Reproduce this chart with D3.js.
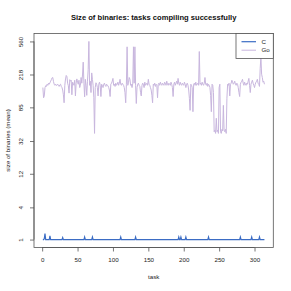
<!DOCTYPE html>
<html>
<head>
	<title>Size of binaries</title>
	<script type="text/javascript" src="https://cdn.jsdelivr.net/npm/d3@7/dist/d3.min.js"></script>
	<style type="text/css">
		body{ margin: 0; background: #fff; }
		text{ font-family: "Liberation Sans", Arial, sans-serif; }
	</style>
</head>
<body>

	<svg width="291" height="291" class="chart"></svg>

	<script type="text/javascript">

		// mean binary size per task, one value per task (1..314)
		var sizeC = [
			1,1,1.05,1.38,1,1,1,1,1,1,
			1.22,1,1,1,1,1,1,1,1,1,
			1,1,1,1,1,1,1,1,1.12,1,
			1,1,1,1,1,1,1,1,1,1,
			1,1,1,1,1,1,1,1,1,1,
			1,1,1,1,1,1,1,1,1,1.15,
			1,1,1,1,1,1,1,1,1,1,
			1.15,1,1,1,1,1,1,1,1,1,
			1,1,1,1,1,1,1,1,1,1,
			1,1,1,1,1,1,1,1,1,1,
			1,1,1,1,1,1,1,1,1,1,
			1.15,1,1,1,1,1,1,1,1,1,
			1,1,1,1,1,1,1,1,1,1,
			1,1.15,1,1,1,1,1,1,1,1,
			1,1,1,1,1,1,1,1,1,1,
			1,1,1,1,1,1,1,1,1,1,
			1,1,1,1,1,1,1,1,1,1,
			1,1,1,1,1,1,1,1,1,1,
			1,1,1,1,1,1,1,1,1,1,
			1,1,1.15,1,1,1.15,1,1,1,1,
			1,1,1.15,1,1,1,1,1,1,1,
			1,1,1,1,1,1,1,1,1,1,
			1,1,1,1,1,1,1,1,1,1,
			1,1,1,1,1.15,1,1,1,1,1,
			1,1,1,1,1,1,1,1,1,1,
			1,1,1,1,1,1,1,1,1,1,
			1,1,1,1,1,1,1,1,1,1,
			1,1,1,1,1,1,1,1,1,1.15,
			1,1,1,1,1,1,1,1,1,1,
			1,1,1,1,1,1.15,1,1,1,1,
			1,1,1,1,1,1,1.15,1,1,1,
			1,1,1,1
		]

		var sizeGo = [
			150,112,118,150,158,155,165,160,170,165,
			172,180,188,198,200,178,165,160,165,160,
			160,165,160,155,162,165,155,150,140,122,
			97,160,192,212,205,170,158,128,188,180,
			185,122,175,168,160,185,118,170,192,175,
			165,185,150,160,200,170,215,310,170,115,
			190,160,120,180,250,560,160,180,130,228,
			190,160,112,40,150,172,165,150,118,165,
			175,160,116,165,160,150,165,170,160,155,
			165,160,158,150,140,116,165,170,180,195,
			160,165,155,170,160,165,175,160,170,190,
			165,160,170,165,160,150,130,97,165,480,
			160,175,200,190,160,165,150,170,480,170,
			480,160,95,150,165,170,160,155,130,118,
			160,170,165,150,175,160,165,170,160,190,
			165,160,150,140,120,97,165,160,170,155,
			165,160,112,165,170,160,175,165,160,170,
			165,160,175,170,160,180,165,160,170,165,
			160,175,165,150,116,165,175,160,170,180,
			165,195,170,160,175,165,160,170,165,160,
			175,165,150,165,170,160,140,110,78,165,
			160,150,75,165,170,160,175,160,165,170,
			160,420,165,170,160,175,165,160,170,200,
			165,160,170,155,165,160,150,120,75,165,
			160,130,42,44,40,62,42,44,40,150,
			165,42,40,45,43,90,44,42,45,40,
			110,165,160,170,118,165,170,185,175,165,
			170,180,165,160,170,165,150,130,116,165,
			175,180,190,170,160,175,165,160,170,165,
			180,195,160,130,165,175,185,170,160,150,
			165,175,180,190,170,165,155,260,360,220,
			200,175,180,165
		]

		var seriesNames = ['C', 'Go']
		var seriesColors = ['#3b6cc4', '#c8b6de']
		var xTicks = [0, 50, 100, 150, 200, 250, 300]
		var yTickLabels = [1, 4, 12, 32, 85, 218, 560]

		var tasks = d3.range(1, sizeGo.length + 1)

		var box = {'left':34, 'right':273.3, 'top':33.5, 'bottom':247.5}
		var svg = d3.select('.chart')

		// R style 4% padding around the data range
		var xMin = 1, xMax = tasks.length
		var xPad = (xMax - xMin) * 0.04
		var xaxis_scale = d3.scaleLinear()
						.domain([xMin - xPad, xMax + xPad])
						.range([box.left, box.right])

		// y is log(1 + size)
		var lo = Math.log1p(d3.min(sizeC.concat(sizeGo)))
		var hi = Math.log1p(d3.max(sizeC.concat(sizeGo)))
		var yPad = (hi - lo) * 0.04
		var yaxis_scale = d3.scaleSymlog()
						.constant(1)
						.domain([Math.expm1(lo - yPad), Math.expm1(hi + yPad)])
						.range([box.bottom, box.top])

		var line = d3.line()
					.x(function(d, i){ return xaxis_scale(tasks[i]) })
					.y(function(d){ return yaxis_scale(d) })

		var plot = svg.append('g')

		plot.append('path')
			.attr('d', line(sizeC))
			.attr('fill', 'none')
			.attr('stroke', seriesColors[0])
			.attr('stroke-width', 1.2)

		plot.append('path')
			.attr('d', line(sizeGo))
			.attr('fill', 'none')
			.attr('stroke', seriesColors[1])
			.attr('stroke-width', 1)

		// box
		svg.append('rect')
			.attr('x', box.left)
			.attr('y', box.top)
			.attr('width', box.right - box.left)
			.attr('height', box.bottom - box.top)
			.attr('fill', 'none')
			.attr('stroke', '#555')
			.attr('stroke-width', 0.8)

		var xAxis = svg.append('g')
			.attr('transform', 'translate(0,' + box.bottom + ')')
			.call(d3.axisBottom(xaxis_scale).tickValues(xTicks).tickSize(4).tickPadding(6))
		xAxis.select('.domain')
			.attr('d', 'M' + xaxis_scale(xTicks[0]) + ',0H' + xaxis_scale(xTicks[xTicks.length - 1]))

		var yAxis = svg.append('g')
			.attr('transform', 'translate(' + box.left + ',0)')
			.call(d3.axisLeft(yaxis_scale).tickValues(yTickLabels).tickFormat(d3.format('d')).tickSize(4).tickPadding(3))
		yAxis.select('.domain')
			.attr('d', 'M0,' + yaxis_scale(yTickLabels[0]) + 'V' + yaxis_scale(yTickLabels[yTickLabels.length - 1]))
		yAxis.selectAll('.tick text')
			.attr('transform', 'rotate(-90)')
			.attr('x', 0)
			.attr('y', -11)
			.attr('dy', 0)
			.attr('text-anchor', 'middle')

		svg.selectAll('.domain, .tick line')
			.attr('stroke', '#555')
			.attr('stroke-width', 0.8)
		svg.selectAll('.tick text')
			.attr('font-size', 6.2)
			.attr('font-family', '"Liberation Sans", Arial, sans-serif')
			.attr('fill', '#222')

		svg.append('text')
			.attr('x', (box.left + box.right) / 2)
			.attr('y', 20)
			.attr('text-anchor', 'middle')
			.attr('font-size', 7.6)
			.attr('font-weight', 'bold')
			.attr('fill', '#111')
			.text('Size of binaries: tasks compiling successfully')

		svg.append('text')
			.attr('x', (box.left + box.right) / 2)
			.attr('y', 279)
			.attr('text-anchor', 'middle')
			.attr('font-size', 6.2)
			.attr('fill', '#222')
			.text('task')

		svg.append('text')
			.attr('transform', 'translate(10,' + ((box.top + box.bottom) / 2) + ') rotate(-90)')
			.attr('text-anchor', 'middle')
			.attr('font-size', 6.2)
			.attr('fill', '#222')
			.text('size of binaries (mean)')

		// legend
		var legend = svg.append('g')
		legend.append('rect')
			.attr('x', 236)
			.attr('y', box.top)
			.attr('width', box.right - 236)
			.attr('height', 25)
			.attr('fill', '#fff')
			.attr('stroke', '#555')
			.attr('stroke-width', 0.8)

		var entries = legend.selectAll('.entry')
			.data(seriesNames)
			.enter()
			.append('g')
			.attr('transform', function(d, i){ return 'translate(0,' + (41.7 + i * 8.5) + ')' })

		entries.append('line')
			.attr('x1', 241.5)
			.attr('x2', 256)
			.attr('stroke', function(d, i){ return seriesColors[i] })
			.attr('stroke-width', function(d, i){ return i == 0 ? 1.2 : 1 })

		entries.append('text')
			.attr('x', 261.5)
			.attr('dy', '0.35em')
			.attr('font-size', 6.2)
			.attr('fill', '#222')
			.text(function(d){ return d })

	</script>

</body>
</html>
